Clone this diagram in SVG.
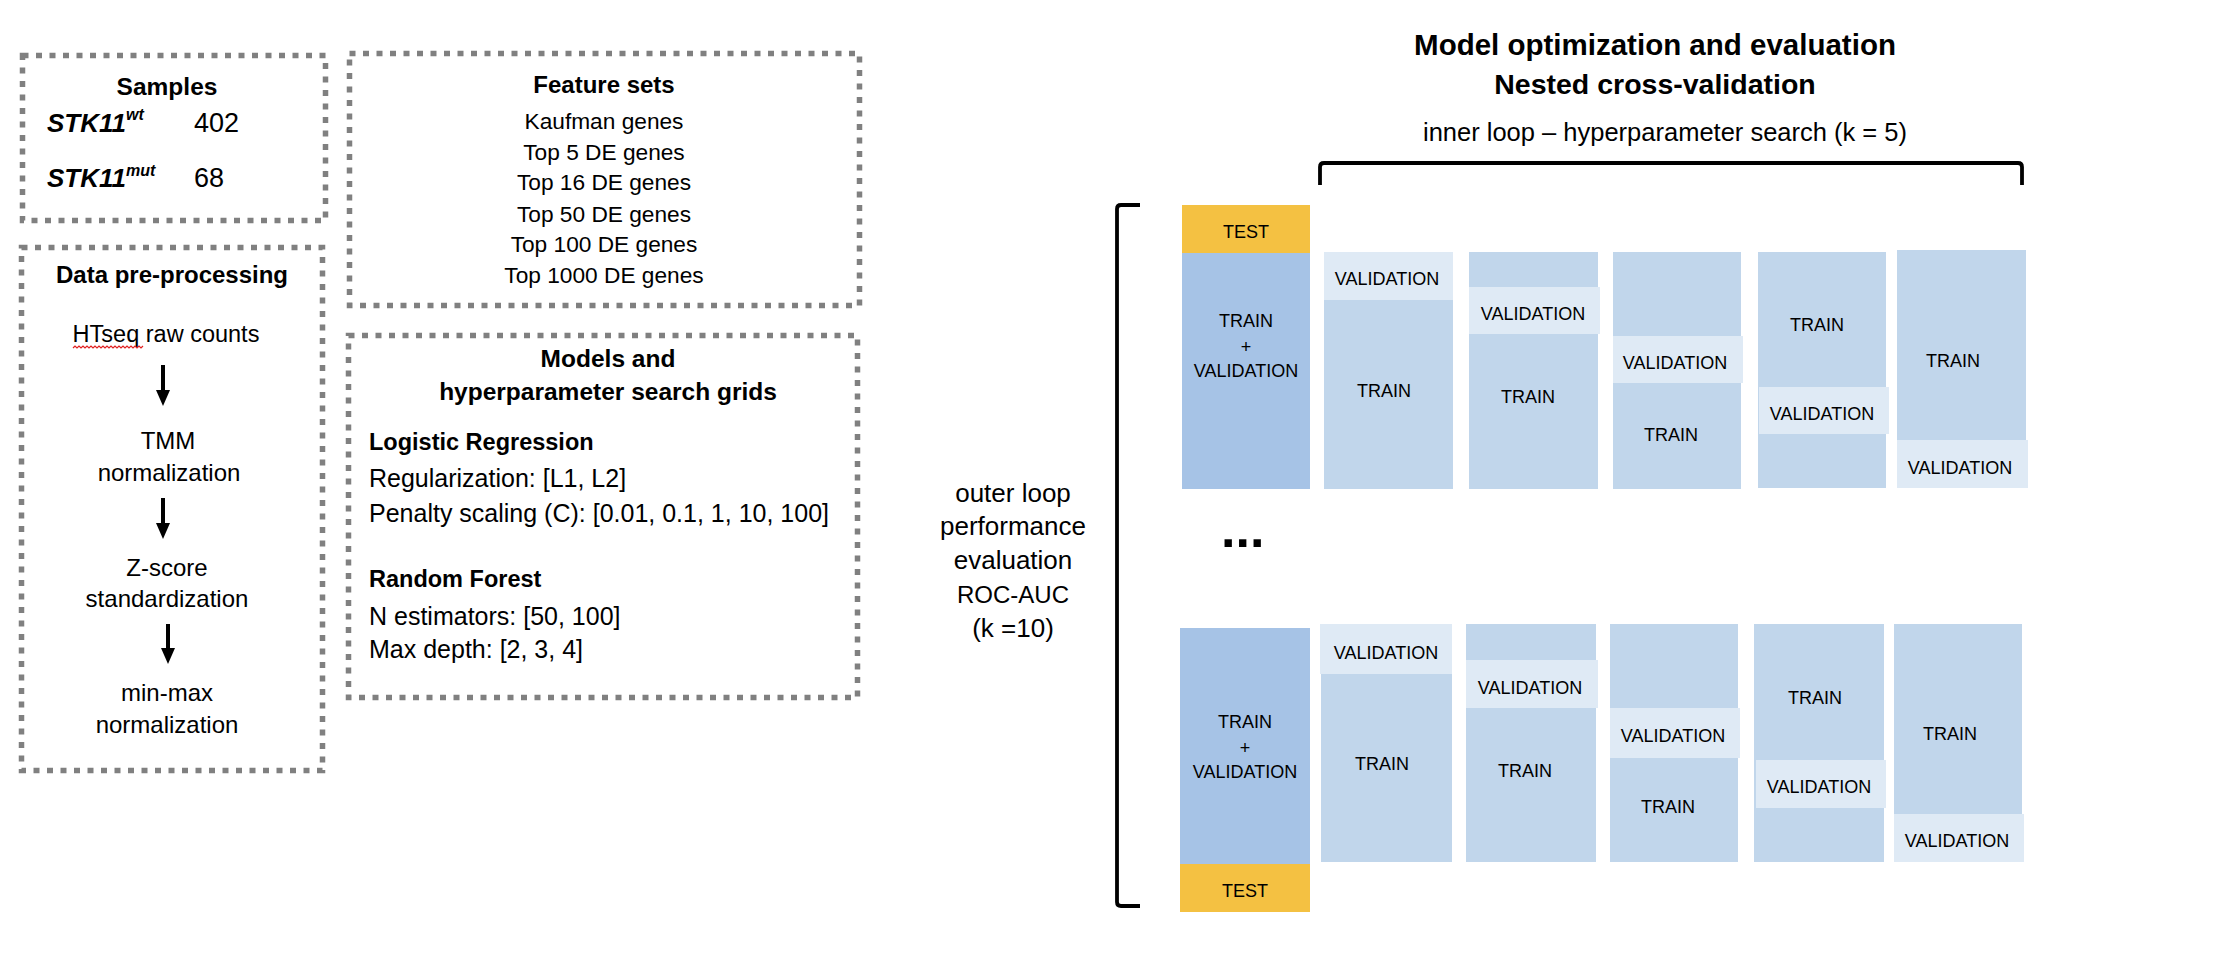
<svg xmlns="http://www.w3.org/2000/svg" width="2236" height="970" viewBox="0 0 2236 970">
<defs>
<style>
.box{fill:none;stroke:#808080;stroke-width:5.5;stroke-dasharray:6 7.5}
text{font-family:"Liberation Sans",Arial,sans-serif;fill:#000}
.b{font-weight:bold}
.c{text-anchor:middle}
.cell{font-size:18px;text-anchor:middle}
.test{fill:#F4C142}
.tv{fill:#A6C3E6}
.tr{fill:#C1D6EB}
.va{fill:#DFEAF5}
.conn{fill:none;stroke:#000;stroke-width:4}
.brk{fill:none;stroke:#000;stroke-width:3.8;stroke-linejoin:round}
</style>
<marker id="ah" viewBox="0 0 16 14" markerWidth="16" markerHeight="14" refX="8" refY="7" orient="auto" markerUnits="userSpaceOnUse">
<path d="M0,0 L16,7 L0,14 z" fill="#000"/>
</marker>
</defs>
<rect width="2236" height="970" fill="#fff"/>

<g id="samples">
<rect class="box" x="22.5" y="55.5" width="303" height="165"/>
<text class="b c" x="167" y="95" font-size="24.5">Samples</text>
<text class="b" x="47" y="132" font-size="26" font-style="italic">STK11<tspan font-size="16" dy="-12">wt</tspan></text>
<text x="194" y="132" font-size="27">402</text>
<text class="b" x="47" y="187" font-size="26" font-style="italic">STK11<tspan font-size="16" dy="-11">mut</tspan></text>
<text x="194" y="187" font-size="27">68</text>
</g>

<g id="preprocessing">
<rect class="box" x="21.5" y="247.5" width="301" height="523"/>
<text class="b c" x="172" y="283" font-size="24">Data pre-processing</text>
<text class="c" x="166" y="342" font-size="23.5">HTseq raw counts</text>
<path d="M73,348 l2,-2 l2,2 l2,-2 l2,2 l2,-2 l2,2 l2,-2 l2,2 l2,-2 l2,2 l2,-2 l2,2 l2,-2 l2,2 l2,-2 l2,2 l2,-2 l2,2 l2,-2 l2,2 l2,-2 l2,2 l2,-2 l2,2 l2,-2 l2,2 l2,-2 l2,2 l2,-2 l2,2 l2,-2 l2,2 l2,-2 l2,2 l2,-2" fill="none" stroke="#E02020" stroke-width="1.2"/>
<text class="c" x="168" y="449" font-size="24">TMM</text>
<text class="c" x="169" y="481" font-size="24">normalization</text>
<text class="c" x="167" y="576" font-size="24">Z-score</text>
<text class="c" x="167" y="607" font-size="24">standardization</text>
<text class="c" x="167" y="701" font-size="24">min-max</text>
<text class="c" x="167" y="733" font-size="24">normalization</text>
</g>

<g id="features">
<rect class="box" x="349.5" y="53.5" width="510" height="252"/>
<text class="b c" x="604" y="93" font-size="24">Feature sets</text>
<text class="c" x="604" y="129" font-size="22.7">Kaufman genes</text>
<text class="c" x="604" y="160" font-size="22.7">Top 5 DE genes</text>
<text class="c" x="604" y="190" font-size="22.7">Top 16 DE genes</text>
<text class="c" x="604" y="222" font-size="22.7">Top 50 DE genes</text>
<text class="c" x="604" y="252" font-size="22.7">Top 100 DE genes</text>
<text class="c" x="604" y="283" font-size="22.7">Top 1000 DE genes</text>
</g>

<g id="models">
<rect class="box" x="348.5" y="335.5" width="509" height="362"/>
<text class="b c" x="608" y="367" font-size="24.5">Models and</text>
<text class="b c" x="608" y="400" font-size="24.5">hyperparameter search grids</text>
<text class="b" x="369" y="450" font-size="23.5">Logistic Regression</text>
<text x="369" y="487" font-size="25">Regularization: [L1, L2]</text>
<text x="369" y="522" font-size="25">Penalty scaling (C): [0.01, 0.1, 1, 10, 100]</text>
<text class="b" x="369" y="587" font-size="23.5">Random Forest</text>
<text x="369" y="625" font-size="25">N estimators: [50, 100]</text>
<text x="369" y="658" font-size="25">Max depth: [2, 3, 4]</text>
</g>

<g id="title">
<text class="b c" x="1655" y="55" font-size="29.5">Model optimization and evaluation</text>
<text class="b c" x="1655" y="94" font-size="28.5">Nested cross-validation</text>
</g>

<g id="inner-label">
<text class="c" x="1665" y="141" font-size="25.5">inner loop – hyperparameter search (k = 5)</text>
</g>

<g id="outer-label">
<text class="c" x="1013" y="502" font-size="26">outer loop</text>
<text class="c" x="1013" y="535" font-size="26">performance</text>
<text class="c" x="1013" y="569" font-size="26">evaluation</text>
<text class="c" x="1013" y="603" font-size="24">ROC-AUC</text>
<text class="c" x="1013" y="637" font-size="26">(k =10)</text>
</g>

<g id="fold-top">
<rect class="test" x="1182" y="205" width="128" height="48"/>
<rect class="tv" x="1182" y="253" width="128" height="236"/>
<text class="cell" x="1246" y="238">TEST</text>
<text class="cell" x="1246" y="327">TRAIN</text>
<text class="cell" x="1246" y="353">+</text>
<text class="cell" x="1246" y="377">VALIDATION</text>

<rect class="va" x="1324" y="252" width="129" height="48"/>
<rect class="tr" x="1324" y="300" width="129" height="189"/>
<text class="cell" x="1387" y="285">VALIDATION</text>
<text class="cell" x="1384" y="397">TRAIN</text>

<rect class="tr" x="1469" y="252" width="129" height="237"/>
<rect class="va" x="1469" y="287" width="131" height="47"/>
<text class="cell" x="1533" y="320">VALIDATION</text>
<text class="cell" x="1528" y="403">TRAIN</text>

<rect class="tr" x="1613" y="252" width="128" height="237"/>
<rect class="va" x="1613" y="336" width="130" height="47"/>
<text class="cell" x="1675" y="369">VALIDATION</text>
<text class="cell" x="1671" y="441">TRAIN</text>

<rect class="tr" x="1758" y="252" width="128" height="236"/>
<rect class="va" x="1759" y="387" width="130" height="47"/>
<text class="cell" x="1817" y="331">TRAIN</text>
<text class="cell" x="1822" y="420">VALIDATION</text>

<rect class="tr" x="1897" y="250" width="129" height="238"/>
<rect class="va" x="1897" y="440" width="131" height="48"/>
<text class="cell" x="1953" y="367">TRAIN</text>
<text class="cell" x="1960" y="474">VALIDATION</text>
</g>

<g id="ellipsis">
<text class="b" x="1221" y="547" font-size="52">...</text>
</g>

<g id="fold-bottom">
<rect class="tv" x="1180" y="628" width="130" height="236"/>
<rect class="test" x="1180" y="864" width="130" height="48"/>
<text class="cell" x="1245" y="728">TRAIN</text>
<text class="cell" x="1245" y="754">+</text>
<text class="cell" x="1245" y="778">VALIDATION</text>
<text class="cell" x="1245" y="897">TEST</text>

<rect class="va" x="1320" y="624" width="132" height="50"/>
<rect class="tr" x="1321" y="674" width="131" height="188"/>
<text class="cell" x="1386" y="659">VALIDATION</text>
<text class="cell" x="1382" y="770">TRAIN</text>

<rect class="tr" x="1466" y="624" width="130" height="238"/>
<rect class="va" x="1466" y="660" width="132" height="48"/>
<text class="cell" x="1530" y="694">VALIDATION</text>
<text class="cell" x="1525" y="777">TRAIN</text>

<rect class="tr" x="1610" y="624" width="128" height="238"/>
<rect class="va" x="1610" y="708" width="130" height="50"/>
<text class="cell" x="1673" y="742">VALIDATION</text>
<text class="cell" x="1668" y="813">TRAIN</text>

<rect class="tr" x="1754" y="624" width="130" height="238"/>
<rect class="va" x="1756" y="760" width="130" height="48"/>
<text class="cell" x="1815" y="704">TRAIN</text>
<text class="cell" x="1819" y="793">VALIDATION</text>

<rect class="tr" x="1894" y="624" width="128" height="238"/>
<rect class="va" x="1894" y="814" width="130" height="48"/>
<text class="cell" x="1950" y="740">TRAIN</text>
<text class="cell" x="1957" y="847">VALIDATION</text>
</g>

<g id="connectors">
<line class="conn" x1="163" y1="365" x2="163" y2="398" marker-end="url(#ah)"/>
<line class="conn" x1="163" y1="498" x2="163" y2="531" marker-end="url(#ah)"/>
<line class="conn" x1="168" y1="624" x2="168" y2="656" marker-end="url(#ah)"/>
<path class="brk" d="M1320,185 L1320,167 Q1320,163 1324,163 L2018,163 Q2022,163 2022,167 L2022,185"/>
<path class="brk" d="M1140,205 L1121,205 Q1117,205 1117,209 L1117,902 Q1117,906 1121,906 L1140,906"/>
</g>
</svg>
